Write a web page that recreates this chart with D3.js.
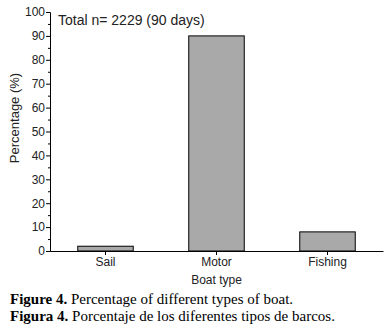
<!DOCTYPE html>
<html>
<head>
<meta charset="utf-8">
<script src="https://cdn.jsdelivr.net/npm/d3@7"></script>
<style>
  body { margin: 0; background: #fff; }
  svg { display: block; }
</style>
</head>
<body>
<div id="chart-container"></div>
<script>
// Chart data
var boatTypes = ['Sail', 'Motor', 'Fishing'];
var percentages = [2, 90, 8];
var yTicks = [0, 10, 20, 30, 40, 50, 60, 70, 80, 90, 100];

var width = 392, height = 335;

var svg = d3.select('#chart-container')
  .append('svg')
  .attr('width', width)
  .attr('height', height);

var x = d3.scaleBand()
  .domain(boatTypes)
  .range([50, 383])
  .paddingInner(0.5)
  .paddingOuter(0.25);

var y = d3.scaleLinear()
  .domain([0, 100])
  .range([251, 12]);

var sansFont = 'Liberation Sans, Arial, sans-serif';

// Bars
svg.selectAll('.bar')
  .data(percentages)
  .enter().append('rect')
  .attr('class', 'bar')
  .attr('x', function (d, i) { return x(boatTypes[i]); })
  .attr('y', function (d) { return y(d); })
  .attr('width', x.bandwidth())
  .attr('height', function (d) { return y(0) - y(d); })
  .attr('fill', '#a9a9a9')
  .attr('stroke', '#000')
  .attr('stroke-width', 1);

// Y axis with minor ticks
svg.append('g')
  .attr('transform', 'translate(50,0)')
  .call(d3.axisLeft(y).tickValues(yTicks).tickSize(4).tickPadding(1));

svg.append('g')
  .attr('transform', 'translate(50,0)')
  .call(d3.axisLeft(y).tickValues(d3.range(5, 100, 10)).tickSize(2).tickFormat(''))
  .select('.domain').remove();

// X axis
svg.append('g')
  .attr('transform', 'translate(0,251)')
  .call(d3.axisBottom(x).tickSize(4).tickPadding(2).tickSizeOuter(0));

svg.selectAll('.domain, .tick line')
  .attr('stroke', '#000');

svg.selectAll('.tick text')
  .attr('font-family', sansFont)
  .attr('font-size', 12)
  .attr('fill', '#222');

// Axis titles
svg.append('text')
  .attr('transform', 'translate(19,118) rotate(-90)')
  .attr('text-anchor', 'middle')
  .attr('font-family', sansFont)
  .attr('font-size', 13)
  .attr('fill', '#222')
  .text('Percentage (%)');

svg.append('text')
  .attr('x', x('Motor') + x.bandwidth() / 2)
  .attr('y', 284)
  .attr('text-anchor', 'middle')
  .attr('font-family', sansFont)
  .attr('font-size', 12)
  .attr('fill', '#222')
  .text('Boat type');

svg.append('text')
  .attr('x', 58)
  .attr('y', 25)
  .attr('font-family', sansFont)
  .attr('font-size', 14)
  .attr('fill', '#222')
  .text('Total n= 2229 (90 days)');

// Caption
var captions = [
  ['Figure 4.', ' Percentage of different types of boat.'],
  ['Figura 4.', ' Porcentaje de los diferentes tipos de barcos.']
];

captions.forEach(function (c, i) {
  var t = svg.append('text')
    .attr('x', 10)
    .attr('y', 304 + i * 17)
    .attr('font-family', 'Liberation Serif, Times New Roman, serif')
    .attr('font-size', 15)
    .attr('fill', '#000');
  t.append('tspan').attr('font-weight', 'bold').text(c[0]);
  t.append('tspan').text(c[1]);
});
</script>
</body>
</html>
